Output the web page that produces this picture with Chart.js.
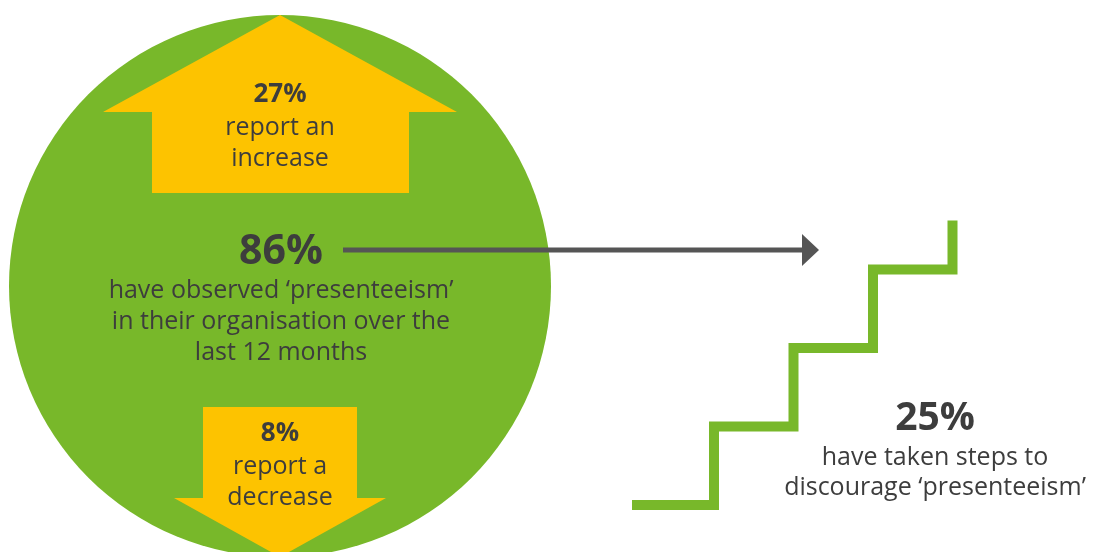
<!DOCTYPE html>
<html>
<head>
<meta charset="utf-8">
<script src="https://cdn.jsdelivr.net/npm/chart.js@4.4.0/dist/chart.umd.min.js"></script>
<style>
  html, body { margin: 0; padding: 0; background: #ffffff; }
  #wrap { width: 1093px; height: 552px; position: relative; }
</style>
</head>
<body>
<div id="wrap"><canvas id="presenteeismChart"></canvas></div>
<script>
// Survey figures
const statKeys = ['increase', 'observed', 'decrease', 'steps'];
const statValues = [27, 86, 8, 25];
const statCaptions = [
    ['report an', 'increase'],
    ['have observed \u2018presenteeism\u2019', 'in their organisation over the', 'last 12 months'],
    ['report a', 'decrease'],
    ['have taken steps to', 'discourage \u2018presenteeism\u2019']
];

const GREEN = '#78b82a';
const YELLOW = '#fdc300';
const TEXT = '#3d3d3d';
const GREY = '#555555';
const FONT = '"Open Sans", sans-serif';

// Layout in canvas units (x: 0..1093, y: 0..552 top-down)
const circle = { x: 280, y: 286, r: 271 };
const stairs = { x0: 632, y0: 505, firstRun: 82, stepW: 79.5, stepH: 78.5, steps: 4, topRise: 49 };

function stairPoints() {
    const pts = [{ x: stairs.x0, y: stairs.y0 }];
    let x = stairs.x0 + stairs.firstRun, y = stairs.y0;
    pts.push({ x: x, y: y });
    for (let i = 0; i < stairs.steps - 1; i++) {
        y -= stairs.stepH;
        pts.push({ x: x, y: y });
        x += stairs.stepW;
        pts.push({ x: x, y: y });
    }
    pts.push({ x: x, y: y - stairs.topRise });
    return pts;
}

function poly(ctx, xs, ys, pts, color) {
    ctx.beginPath();
    pts.forEach(function(p, i) {
        const px = xs.getPixelForValue(p[0]);
        const py = ys.getPixelForValue(p[1]);
        if (i === 0) ctx.moveTo(px, py); else ctx.lineTo(px, py);
    });
    ctx.closePath();
    ctx.fillStyle = color;
    ctx.fill();
}

function textBlock(ctx, xs, ys, cx, top, value, size, lines, lineGap, bodySize) {
    const x = xs.getPixelForValue(cx);
    ctx.textAlign = 'center';
    ctx.textBaseline = 'middle';
    ctx.fillStyle = TEXT;
    ctx.font = 'bold ' + size + 'px ' + FONT;
    ctx.fillText(value + '%', x, ys.getPixelForValue(top));
    ctx.font = bodySize + 'px ' + FONT;
    lines.forEach(function(line, i) {
        ctx.fillText(line, x, ys.getPixelForValue(top + lineGap.first + i * lineGap.step));
    });
}

const infographicPlugin = {
    id: 'infographic',
    afterDatasetsDraw(chart) {
        const ctx = chart.ctx;
        const xs = chart.scales.x;
        const ys = chart.scales.y;
        ctx.save();

        // up arrow
        poly(ctx, xs, ys, [
            [280, 15], [457, 112], [409, 112], [409, 193],
            [152, 193], [152, 112], [103, 112]
        ], YELLOW);

        // down arrow
        poly(ctx, xs, ys, [
            [203, 407], [357, 407], [357, 498], [386, 498],
            [280, 557], [174, 498], [203, 498]
        ], YELLOW);

        // grey pointer
        ctx.strokeStyle = GREY;
        ctx.lineWidth = 5;
        ctx.beginPath();
        ctx.moveTo(xs.getPixelForValue(343), ys.getPixelForValue(250));
        ctx.lineTo(xs.getPixelForValue(806), ys.getPixelForValue(250));
        ctx.stroke();
        poly(ctx, xs, ys, [[802, 234], [819, 250], [802, 266]], GREY);

        textBlock(ctx, xs, ys, 280, 95, statValues[0], 26, statCaptions[0], { first: 33, step: 31 }, 25);
        textBlock(ctx, xs, ys, 281, 252, statValues[1], 41, statCaptions[1], { first: 39, step: 31 }, 25);
        textBlock(ctx, xs, ys, 280, 434, statValues[2], 26, statCaptions[2], { first: 33, step: 31 }, 25);
        textBlock(ctx, xs, ys, 935, 419, statValues[3], 39, statCaptions[3], { first: 39, step: 30 }, 25);

        ctx.restore();
    }
};

new Chart(document.getElementById('presenteeismChart'), {
    type: 'scatter',
    data: {
        datasets: [
            {
                label: statKeys[1],
                data: [{ x: circle.x, y: circle.y }],
                pointRadius: circle.r,
                pointHoverRadius: circle.r,
                backgroundColor: GREEN,
                borderWidth: 0,
                clip: false
            },
            {
                label: statKeys[3],
                type: 'line',
                data: stairPoints(),
                borderColor: GREEN,
                borderWidth: 10,
                borderJoinStyle: 'miter',
                borderCapStyle: 'butt',
                pointRadius: 0,
                fill: false,
                tension: 0,
                clip: false
            }
        ]
    },
    options: {
        responsive: true,
        maintainAspectRatio: false,
        animation: false,
        events: [],
        layout: { padding: 0, autoPadding: false },
        scales: {
            x: { type: 'linear', min: 0, max: 1093, display: false },
            y: { type: 'linear', min: 0, max: 552, reverse: true, display: false }
        },
        plugins: {
            legend: { display: false },
            tooltip: { enabled: false }
        }
    },
    plugins: [infographicPlugin]
});
</script>
</body>
</html>
